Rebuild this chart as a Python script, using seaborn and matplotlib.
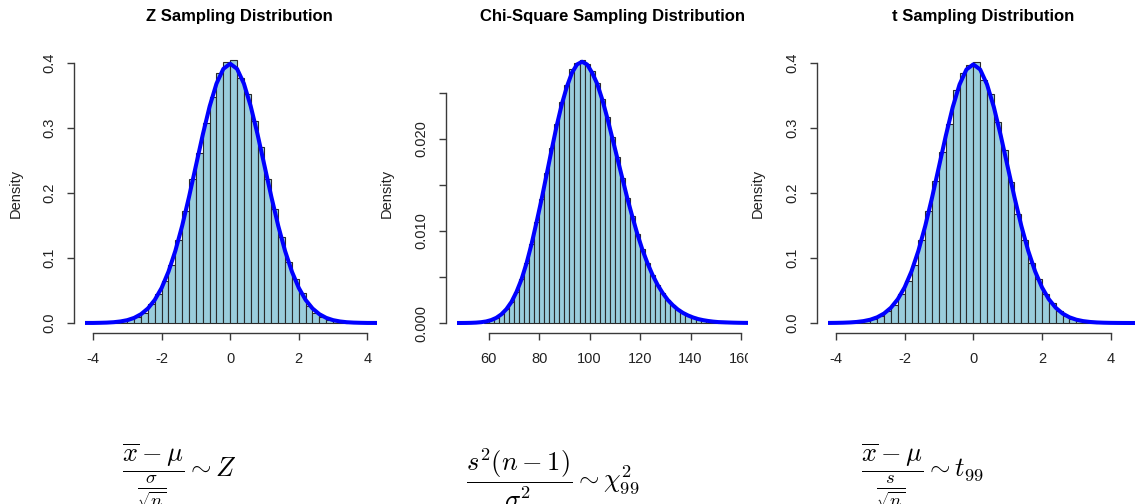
import numpy as np
import pandas as pd
import matplotlib
matplotlib.use("Agg")
import matplotlib.pyplot as plt
import seaborn as sns
from matplotlib.transforms import Bbox, TransformedBbox
from matplotlib.ticker import FixedLocator, FixedFormatter

# ---------------- data ----------------
z_breaks = [round(v, 1) for v in np.arange(-3.4, 3.41, 0.2)]
z_density = [0.001, 0.003, 0.006, 0.010, 0.016, 0.030, 0.045, 0.064, 0.090, 0.128,
             0.172, 0.221, 0.261, 0.308, 0.347, 0.384, 0.402, 0.404, 0.377, 0.352,
             0.311, 0.271, 0.222, 0.176, 0.133, 0.094, 0.067, 0.046, 0.026, 0.015,
             0.009, 0.005, 0.003, 0.001]

chi_breaks = [float(v) for v in np.arange(58, 155, 2)]
chi_density = [0.00017, 0.00032, 0.00056, 0.00094, 0.00150, 0.00228, 0.00337, 0.00474,
               0.00650, 0.00860, 0.0110, 0.0135, 0.0163, 0.0190, 0.0216, 0.0240,
               0.0259, 0.0276, 0.0283, 0.0286, 0.0282, 0.0274, 0.0261, 0.0244,
               0.0224, 0.0202, 0.0180, 0.0158, 0.0136, 0.0116, 0.0097, 0.0080,
               0.00650, 0.00522, 0.00415, 0.00326, 0.00252, 0.00194, 0.00147, 0.00111,
               0.00083, 0.00061, 0.00044, 0.00031, 0.00022, 0.00015, 0.00010, 0.00007]

t_breaks = [round(v, 1) for v in np.arange(-3.6, 3.61, 0.2)]
t_density = [0.001, 0.002, 0.003, 0.006, 0.011, 0.019, 0.028, 0.045, 0.065, 0.089,
             0.128, 0.172, 0.219, 0.263, 0.306, 0.359, 0.385, 0.397, 0.401, 0.374,
             0.352, 0.310, 0.266, 0.217, 0.168, 0.128, 0.093, 0.068, 0.045, 0.030,
             0.018, 0.011, 0.006, 0.003, 0.002, 0.001]

curve_x = [-4.4, -4.2, -4.0, -3.8, -3.6, -3.4, -3.2, -3.0, -2.8, -2.6, -2.4, -2.2, -2.0,
           -1.8, -1.6, -1.4, -1.2, -1.0, -0.8, -0.6, -0.4, -0.2, 0.0, 0.2, 0.4, 0.6,
           0.8, 1.0, 1.2, 1.4, 1.6, 1.8, 2.0, 2.2, 2.4, 2.6, 2.8, 3.0, 3.2, 3.4, 3.6,
           3.8, 4.0, 4.2, 4.4, 4.6, 4.8]
z_curve = [0.0000, 0.0001, 0.0001, 0.0003, 0.0006, 0.0012, 0.0024, 0.0044, 0.0079, 0.0136,
           0.0224, 0.0355, 0.0540, 0.0790, 0.1109, 0.1497, 0.1942, 0.2420, 0.2897, 0.3332,
           0.3683, 0.3910, 0.3989, 0.3910, 0.3683, 0.3332, 0.2897, 0.2420, 0.1942, 0.1497,
           0.1109, 0.0790, 0.0540, 0.0355, 0.0224, 0.0136, 0.0079, 0.0044, 0.0024, 0.0012,
           0.0006, 0.0003, 0.0001, 0.0001, 0.0000, 0.0000, 0.0000]
t_curve = [0.00005, 0.00011, 0.00022, 0.00044, 0.00085, 0.0016, 0.0029, 0.0051, 0.0088,
           0.0146, 0.0235, 0.0366, 0.0549, 0.0795, 0.1110, 0.1493, 0.1933, 0.2407, 0.2883,
           0.3319, 0.3670, 0.3900, 0.3979, 0.3900, 0.3670, 0.3319, 0.2883, 0.2407, 0.1933,
           0.1493, 0.1110, 0.0795, 0.0549, 0.0366, 0.0235, 0.0146, 0.0088, 0.0051, 0.0029,
           0.0016, 0.00085, 0.00044, 0.00022, 0.00011, 0.00005, 0.00002, 0.00001]

chi_curve_x = [45, 47, 49, 51, 53, 55, 57, 59, 61, 63, 65, 67, 69, 71, 73, 75, 77, 79, 81,
               83, 85, 87, 89, 91, 93, 95, 97, 99, 101, 103, 105, 107, 109, 111, 113, 115,
               117, 119, 121, 123, 125, 127, 129, 131, 133, 135, 137, 139, 141, 143, 145,
               147, 149, 151, 153, 155, 157, 159, 161, 163, 165]
chi_curve = [0.0000004, 0.0000011, 0.0000031, 0.0000080, 0.000019, 0.000042, 0.000088,
             0.00017, 0.00032, 0.00056, 0.00094, 0.00150, 0.00228, 0.00337, 0.00474,
             0.00650, 0.00860, 0.0110, 0.0135, 0.0162, 0.0189, 0.0215, 0.0238, 0.0257,
             0.0272, 0.0281, 0.0284, 0.0281, 0.0272, 0.0260, 0.0243, 0.0223, 0.0201,
             0.0179, 0.0157, 0.0135, 0.0115, 0.0096, 0.0079, 0.00646, 0.00519, 0.00412,
             0.00324, 0.00250, 0.00193, 0.00146, 0.00110, 0.00082, 0.00060, 0.00043,
             0.00031, 0.00022, 0.00015, 0.00010, 0.000078, 0.000055, 0.000037, 0.000025,
             0.000016, 0.000011, 0.000007]

titles = ["Z Sampling Distribution", "Chi-Square Sampling Distribution", "t Sampling Distribution"]
formulas = [r"$\dfrac{\overline{x}-\mu}{\frac{\sigma}{\sqrt{n}}}\sim Z$",
            r"$\dfrac{s^2(n-1)}{\sigma^2}\sim \chi^2_{99}$",
            r"$\dfrac{\overline{x}-\mu}{\frac{s}{\sqrt{n}}}\sim t_{99}$"]

# ---------------- style ----------------
sns.set_theme(style="white")
plt.rcParams["font.family"] = ["Liberation Sans", "DejaVu Sans"]
plt.rcParams["mathtext.fontset"] = "cm"

W, H = 1135, 504
fig = plt.figure(figsize=(W / 100, H / 100), dpi=100)
fig.patch.set_facecolor("white")

BAR = "#9ACDDC"
EDGE = "#2a2a2a"
AX = "#3a3a3a"


def px_axes(x0, x1, ytop, ybot):
    return fig.add_axes([x0 / W, 1 - ybot / H, (x1 - x0) / W, (ybot - ytop) / H])


def style_axes(ax, xb, yb, xt, yt, xlabels, ylabels):
    for s in ["top", "right"]:
        ax.spines[s].set_visible(False)
    ax.spines["left"].set_position(("outward", 11 * 0.72))
    ax.spines["left"].set_bounds(*yb)
    ax.spines["bottom"].set_bounds(*xb)
    for s in ["left", "bottom"]:
        ax.spines[s].set_color(AX)
        ax.spines[s].set_linewidth(1.0)
    ax.xaxis.set_major_locator(FixedLocator(xt))
    ax.xaxis.set_major_formatter(FixedFormatter(xlabels))
    ax.yaxis.set_major_locator(FixedLocator(yt))
    ax.yaxis.set_major_formatter(FixedFormatter(ylabels))
    ax.tick_params(axis="both", which="major", direction="out", length=5, width=1.0,
                   color=AX, labelsize=10.5, labelcolor="#222222",
                   bottom=True, left=True)
    ax.tick_params(axis="x", pad=8.5)
    ax.tick_params(axis="y", pad=7.5, labelrotation=90)
    for lbl in ax.get_yticklabels():
        lbl.set_va("center")
    ax.set_xlabel("")
    ax.set_ylabel("")
    ax.set_facecolor("white")
    ax.grid(False)


def draw_panel(ax, breaks, dens, cx, cy):
    centers = [(a + b) / 2 for a, b in zip(breaks[:-1], breaks[1:])]
    df = pd.DataFrame({"x": centers, "d": dens})
    sns.histplot(data=df, x="x", weights="d", bins=breaks, stat="count",
                 color=BAR, edgecolor=EDGE, linewidth=0.8, alpha=1, ax=ax)
    dfc = pd.DataFrame({"x": cx, "y": cy})
    sns.lineplot(data=dfc, x="x", y="y", color="#0000FF", linewidth=2.9, ax=ax)


# Panel 1: Z
ax1 = px_axes(85, 377, 45, 333)
draw_panel(ax1, z_breaks, z_density, curve_x, z_curve)
ax1.set_xlim((85 - 230.2) / 34.29, (377 - 230.2) / 34.29)
ax1.set_ylim((323 - 333) / 650, (323 - 45) / 650)
style_axes(ax1, (-4, 4), (0, 0.4), [-4, -2, 0, 2, 4], [0, 0.1, 0.2, 0.3, 0.4],
           ["-4", "-2", "0", "2", "4"], ["0.0", "0.1", "0.2", "0.3", "0.4"])

# Panel 2: Chi-square
ax2 = px_axes(457, 748, 45, 333)
draw_panel(ax2, chi_breaks, chi_density, chi_curve_x, chi_curve)
ax2.set_xlim(60 - (488.7 - 457) / 2.523, 60 + (748 - 488.7) / 2.523)
ax2.set_ylim((323 - 333) / 9200, (323 - 45) / 9200)
style_axes(ax2, (60, 160), (0, 0.025), [60, 80, 100, 120, 140, 160],
           [0, 0.005, 0.010, 0.015, 0.020, 0.025],
           ["60", "80", "100", "120", "140", "160"],
           ["0.000", "", "0.010", "", "0.020", ""])

# Panel 3: t
ax3 = px_axes(828, 1135, 45, 333)
draw_panel(ax3, t_breaks, t_density, curve_x, t_curve)
ax3.set_xlim((828 - 973.3) / 34.33, (1135 - 973.3) / 34.33)
ax3.set_ylim((323 - 333) / 650, (323 - 45) / 650)
style_axes(ax3, (-4, 4), (0, 0.4), [-4, -2, 0, 2, 4], [0, 0.1, 0.2, 0.3, 0.4],
           ["-4", "-2", "0", "2", "4"], ["0.0", "0.1", "0.2", "0.3", "0.4"])

# clip the last label of the chi-square axis at its figure region
clipbox = TransformedBbox(Bbox([[0, 0], [748 / W, 1]]), fig.transFigure)
for lbl in ax2.get_xticklabels():
    lbl.set_clip_box(clipbox)
    lbl.set_clip_on(True)

# titles and y labels
for cxp, t in zip([239.5, 612, 983], titles):
    fig.text(cxp / W, 1 - 17 / H, t, ha="center", va="center",
             fontsize=12, fontweight="bold", color="black")
for lx in [16, 387, 758]:
    fig.text(lx / W, 1 - 193 / H, "Density", rotation=90, ha="center", va="center",
             fontsize=10.5, color="#222222")

# formulas
for (fx, fy), f in zip([(122, 477), (466, 488), (861, 477)], formulas):
    fig.text(fx / W, 1 - fy / H, f, ha="left", va="baseline", fontsize=19, color="black")

fig.savefig("out.png", dpi=100)
